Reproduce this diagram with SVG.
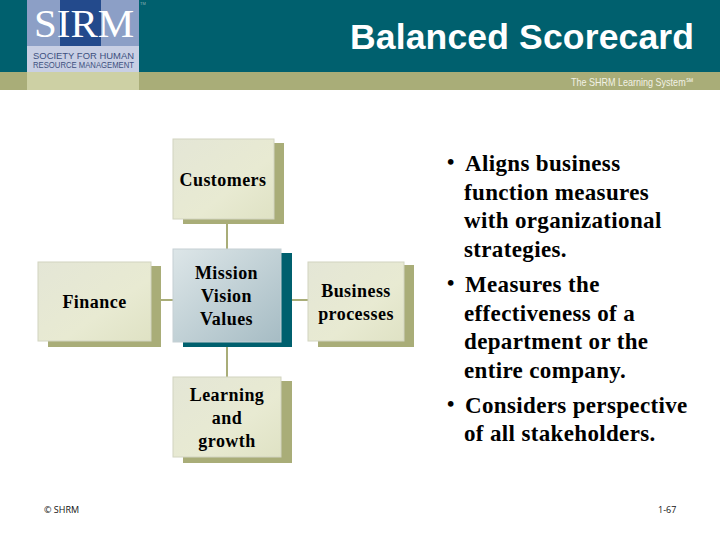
<svg xmlns="http://www.w3.org/2000/svg" width="720" height="540" viewBox="0 0 720 540">
<defs>
<linearGradient id="cream" x1="0" y1="0" x2="1" y2="1"><stop offset="0" stop-color="#e4e6d6"/><stop offset="0.6" stop-color="#e8ead2"/><stop offset="1" stop-color="#dfe2c4"/></linearGradient>
<linearGradient id="blue" x1="0" y1="0" x2="1" y2="1"><stop offset="0" stop-color="#dde6e8"/><stop offset="1" stop-color="#a6bcc4"/></linearGradient>
</defs>
<style>
.lbl{font-family:"Liberation Serif",serif;font-weight:700;font-size:18px;fill:#000;text-anchor:middle;letter-spacing:.45px}
.b{font-family:"Liberation Serif",serif;font-weight:700;font-size:23px;fill:#000;letter-spacing:.35px}
.dot{font-family:"Liberation Serif",serif;font-weight:700;font-size:21px;fill:#000}
.ol{fill:#a9ad78}
.face{fill:url(#cream);stroke:#d2d4c0;stroke-width:1}
.conn{stroke:#a9ad78;stroke-width:2;fill:none}
.foot{font-family:"Open Sans",sans-serif;font-size:9px;fill:#111}
</style>
<rect width="720" height="540" fill="#fff"/>
<g id="header">
<rect width="720" height="72" fill="#00606e"/>
<rect y="72" width="720" height="18" fill="#a9ad78"/>
<rect x="27" y="72" width="112" height="18" fill="#cdd0a4"/>
<rect x="27" y="0" width="112" height="46" fill="#8c9fc6"/>
<rect x="60" y="0" width="41" height="46" fill="#234a8c"/>
<rect x="27" y="46" width="112" height="26" fill="#c8cfe4"/>
<text x="34" y="37" font-family="Liberation Serif,serif" font-size="41" fill="#fff">SIRM</text>
<text x="33" y="59" font-family="Liberation Sans,sans-serif" font-size="9" fill="#3d4f80" textLength="101" lengthAdjust="spacingAndGlyphs">SOCIETY FOR HUMAN</text>
<text x="33" y="68" font-family="Liberation Sans,sans-serif" font-size="9" fill="#3d4f80" textLength="101" lengthAdjust="spacingAndGlyphs">RESOURCE MANAGEMENT</text>
<text x="140" y="5" font-family="Liberation Sans,sans-serif" font-size="4" fill="#8fb0b5">TM</text>
<text x="350" y="49" font-family="Liberation Sans,sans-serif" font-weight="700" font-size="35.500" fill="#fff" textLength="344">Balanced Scorecard</text>
<text x="571" y="86" font-family="Liberation Sans,sans-serif" font-size="11" fill="#f2f2e6" textLength="122" lengthAdjust="spacingAndGlyphs">The SHRM Learning System℠</text>
</g>
<g id="connectors">
<path class="conn" d="M227 219V249M227 342V377M161 300H173M292 300H308"/>
</g>
<g id="customers">
<rect class="ol" x="183" y="143" width="101" height="81"/>
<rect class="face" x="173" y="139" width="101" height="80"/>
<text class="lbl" x="223" y="186">Customers</text>
</g>
<g id="finance">
<rect class="ol" x="48" y="266" width="113" height="81"/>
<rect class="face" x="38" y="262" width="113" height="79"/>
<text class="lbl" x="94.500" y="308">Finance</text>
</g>
<g id="mission">
<rect x="183" y="253" width="109" height="94" fill="#00606e"/>
<rect x="173" y="249" width="108" height="93" fill="url(#blue)" stroke="#c5d0d4"/>
<text class="lbl" x="226.500" y="279">Mission</text>
<text class="lbl" x="226.500" y="302">Vision</text>
<text class="lbl" x="226.500" y="325">Values</text>
</g>
<g id="business">
<rect class="ol" x="318" y="265" width="96" height="82"/>
<rect class="face" x="308" y="262" width="96" height="79"/>
<text class="lbl" x="356" y="297">Business</text>
<text class="lbl" x="356" y="320">processes</text>
</g>
<g id="learning">
<rect class="ol" x="183" y="381" width="109" height="82"/>
<rect class="face" x="173" y="377" width="108" height="80"/>
<text class="lbl" x="227" y="401">Learning</text>
<text class="lbl" x="227" y="424">and</text>
<text class="lbl" x="227" y="447">growth</text>
</g>
<g id="bullets">
<text class="dot" x="447" y="169">•</text>
<text class="b" x="465" y="171">Aligns business</text>
<text class="b" x="464" y="200">function measures</text>
<text class="b" x="464" y="228">with organizational</text>
<text class="b" x="464" y="257">strategies.</text>
<text class="dot" x="447" y="290">•</text>
<text class="b" x="465" y="292">Measures the</text>
<text class="b" x="464" y="321">effectiveness of a</text>
<text class="b" x="464" y="349">department or the</text>
<text class="b" x="464" y="378">entire company.</text>
<text class="dot" x="447" y="411">•</text>
<text class="b" x="465" y="413">Considers perspective</text>
<text class="b" x="464" y="441">of all stakeholders.</text>
</g>
<g id="footer">
<text class="foot" x="44" y="513">© SHRM</text>
<text class="foot" x="658" y="513">1-67</text>
</g>
</svg>
